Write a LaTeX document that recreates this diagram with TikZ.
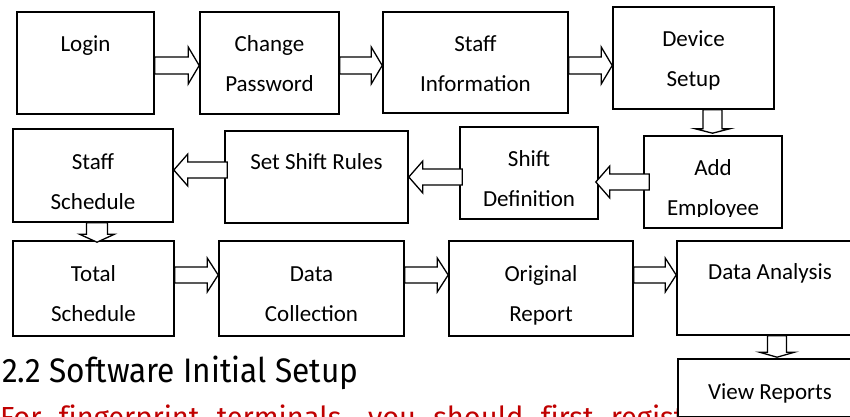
\documentclass[tikz,border=0pt]{standalone}
\usepackage{fontspec}
\setmainfont{Carlito}
\newfontfamily\headfont[Ligatures=NoCommon]{Fira Sans}
\usetikzlibrary{calc}
\definecolor{notered}{RGB}{192,0,0}

% hollow block arrow: start, tip, shaft half width, head half width, head length
\newcommand\blockarr[5]{%
  \coordinate (ba-s) at (#1);
  \coordinate (ba-e) at (#2);
  \coordinate (ba-b) at ($(ba-e)!#5!(ba-s)$);
  \draw[arrowline] ($(ba-s)!#3!90:(ba-e)$) -- ($(ba-b)!#3!90:(ba-e)$)
    -- ($(ba-b)!#4!90:(ba-e)$) -- (ba-e) -- ($(ba-b)!#4!-90:(ba-e)$)
    -- ($(ba-b)!#3!-90:(ba-e)$) -- ($(ba-s)!#3!-90:(ba-e)$) -- cycle;
}
% two centred lines, baseline at the first line
\newcommand\twol[2]{\parbox[t]{6cm}{\centering #1\\#2}}

\begin{document}
\begin{tikzpicture}[x=1pt,y=-1pt,
  box/.style={draw, line width=1.6pt, rectangle, inner sep=0pt},
  lbl/.style={anchor=base, inner sep=0pt, font=\fontsize{23}{40}\selectfont},
  arrowline/.style={draw, fill=white, line width=1.3pt, line join=miter},
  headtxt/.style={anchor=base west, inner sep=0pt}]
\useasboundingbox (0,0) rectangle (850,416);
\fill[white] (0,0) rectangle (850,416);

% first row
\node[box, minimum width=137, minimum height=102] (login) at (85.5,63) {};
\node[box, minimum width=139, minimum height=102] (chg) at (269.5,63) {};
\node[box, minimum width=185, minimum height=101] (info) at (475.5,62.5) {};
\node[box, minimum width=161, minimum height=102] (dev) at (693.5,58) {};
% second row
\node[box, minimum width=138, minimum height=92] (add) at (713,182) {};
\node[box, minimum width=138, minimum height=92] (sdef) at (529,173) {};
\node[box, minimum width=183, minimum height=92] (rules) at (316.5,177) {};
\node[box, minimum width=160, minimum height=93] (sched) at (93,175.5) {};
% third row
\node[box, minimum width=161, minimum height=95] (total) at (93.5,288.5) {};
\node[box, minimum width=185, minimum height=95] (coll) at (311.5,288.5) {};
\node[box, minimum width=184, minimum height=95] (orig) at (541,288.5) {};
\node[box, minimum width=186, minimum height=94] (anal) at (770,288) {};

% labels
\node[lbl] (t-login) at ($(login.north)+(0,40)$) {Login};
\node[lbl] (t-chg) at ($(chg.north)+(0,40)$) {\twol{Change}{Password}};
\node[lbl] (t-info) at ($(info.north)+(0,40)$) {\twol{Staff}{Information}};
\node[lbl] (t-dev) at ($(dev.north)+(0,40)$) {\twol{Device}{Setup}};
\begin{scope}
  \clip (600,130) rectangle (800,216.6);
  \node[lbl] (t-add) at ($(add.north)+(0,40)$) {\twol{Add}{Employee}};
\end{scope}
\node[lbl] (t-sdef) at ($(sdef.north)+(0,40)$) {\twol{Shift}{Definition}};
\node[lbl] (t-rules) at ($(rules.north)+(0,39)$) {Set Shift Rules};
\node[lbl] (t-sched) at ($(sched.north)+(0,41)$) {\twol{Staff}{Schedule}};
\node[lbl] (t-total) at ($(total.north)+(0,41)$) {\twol{Total}{Schedule}};
\node[lbl] (t-coll) at ($(coll.north)+(0,41)$) {\twol{Data}{Collection}};
\node[lbl] (t-orig) at ($(orig.north)+(0,41)$) {\twol{Original}{Report}};
\node[lbl] (t-anal) at ($(anal.north)+(0,39)$) {Data Analysis};

% connectors
\blockarr{[yshift=-2.5pt]login.east}{[yshift=-2.5pt]chg.west}{8.5pt}{18.5pt}{11pt}
\blockarr{[yshift=-2.5pt]chg.east}{[yshift=-3pt]info.west}{8.5pt}{18.5pt}{11pt}
\blockarr{[yshift=-3pt]info.east}{[yshift=-7.5pt]dev.west}{8.5pt}{18.5pt}{11pt}
\blockarr{[xshift=19pt]dev.south}{[xshift=-0.5pt,yshift=2pt]add.north}{9.5pt}{17.5pt}{4.5pt}
\blockarr{[xshift=6pt]add.west}{[xshift=-3pt,yshift=-9pt]sdef.east}{8pt}{16pt}{14pt}
\blockarr{[xshift=3pt,yshift=-4pt]sdef.west}{rules.east}{8pt}{16pt}{14pt}
\blockarr{[xshift=3pt,yshift=7pt]rules.west}{[yshift=5.5pt]sched.east}{8pt}{16pt}{14pt}
\blockarr{[xshift=4pt]sched.south}{[xshift=3.5pt,yshift=-2pt]total.north}{10.5pt}{17.5pt}{8pt}
\blockarr{[yshift=13.5pt]total.east}{[yshift=13.5pt]coll.west}{8pt}{17pt}{11pt}
\blockarr{[yshift=13.5pt]coll.east}{[yshift=13.5pt]orig.west}{8pt}{17pt}{11pt}
\blockarr{[yshift=13.5pt]orig.east}{[yshift=13pt]anal.west}{8pt}{17pt}{11pt}

% section text
\node[headtxt, font=\headfont\fontsize{34}{40}\selectfont] (heading) at (2,382)
  {\scalebox{0.93}[1]{2.2 Software Initial Setup}};
\node[headtxt, text=notered, font=\headfont\fontsize{29}{34}\selectfont] (intro) at (0,427)
  {\makebox[684pt][s]{For fingerprint terminals, you should first regist}};

% last box sits over the running text
\node[box, fill=white, minimum width=184, minimum height=58] (view) at (770,388) {};
\node[lbl] (t-view) at ($(view.north)+(0,41)$) {View Reports};
\blockarr{[xshift=7pt]anal.south}{[xshift=7pt,yshift=1pt]view.north}{9.5pt}{17.5pt}{5pt}
\end{tikzpicture}
\end{document}
